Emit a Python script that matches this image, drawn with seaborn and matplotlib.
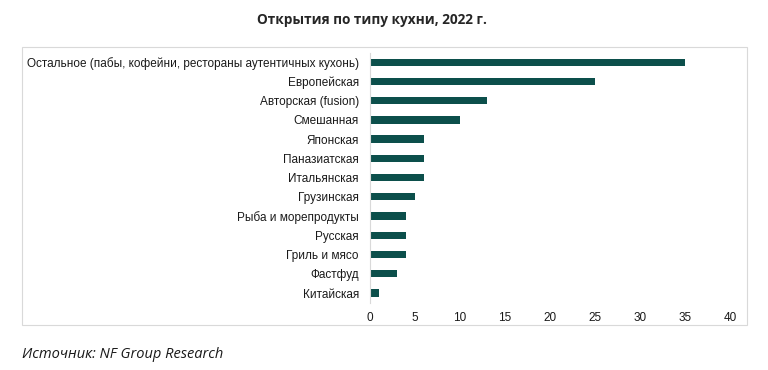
import pandas as pd
import seaborn as sns
import matplotlib.pyplot as plt
from matplotlib.patches import Rectangle

# data
categories = ['Остальное (пабы, кофейни, рестораны аутентичных кухонь)', 'Европейская',
              'Авторская (fusion)', 'Смешанная', 'Японская', 'Паназиатская', 'Итальянская',
              'Грузинская', 'Рыба и морепродукты', 'Русская', 'Гриль и мясо', 'Фастфуд', 'Китайская']
openings = [35, 25, 13, 10, 6, 6, 6, 5, 4, 4, 4, 3, 1]
x_ticks = [0, 5, 10, 15, 20, 25, 30, 35, 40]

df = pd.DataFrame({'Кухня': categories, 'Открытия': openings})

sns.set_style('white')
plt.rcParams['font.family'] = ['Liberation Sans', 'DejaVu Sans']

fig = plt.figure(figsize=(7.68, 3.70), dpi=100)
ax = fig.add_axes([0.4818, 0.182, 0.4687, 0.676])

sns.barplot(data=df, x='Открытия', y='Кухня', orient='h', color='#0c4f4b',
            width=0.38, saturation=1, linewidth=0, ax=ax)

ax.set_xlim(0, 40)
ax.set_ylim(len(categories) - 0.5, -0.5)
ax.set_xticks(x_ticks)
ax.set_xlabel('')
ax.set_ylabel('')
ax.tick_params(axis='y', length=0, pad=8, labelsize=8.5, colors='#1a1a1a')
ax.tick_params(axis='x', length=0, pad=7, labelsize=8.5, colors='#1a1a1a')
for s in ['top', 'right', 'bottom']:
    ax.spines[s].set_visible(False)
ax.spines['left'].set_color('#d9d9d9')
ax.spines['left'].set_linewidth(0.8)

# outer chart frame
fig.patches.append(Rectangle((22 / 768, 1 - 325 / 370), 725 / 768, 278 / 370,
                             transform=fig.transFigure, fill=False,
                             edgecolor='#d9d9d9', linewidth=0.8))

fig.text(372 / 768, 1 - 20 / 370, 'Открытия по типу кухни, 2022 г.', ha='center', va='center',
         fontsize=9.8, fontweight='bold', family=['Open Sans', 'DejaVu Sans'])
fig.text(22 / 768, 1 - 355 / 370, 'Источник: NF Group Research', ha='left', va='center',
         fontsize=10.5, style='italic', family=['Open Sans', 'DejaVu Sans'], color='#1a1a1a')

fig.savefig('out.png', dpi=100)
